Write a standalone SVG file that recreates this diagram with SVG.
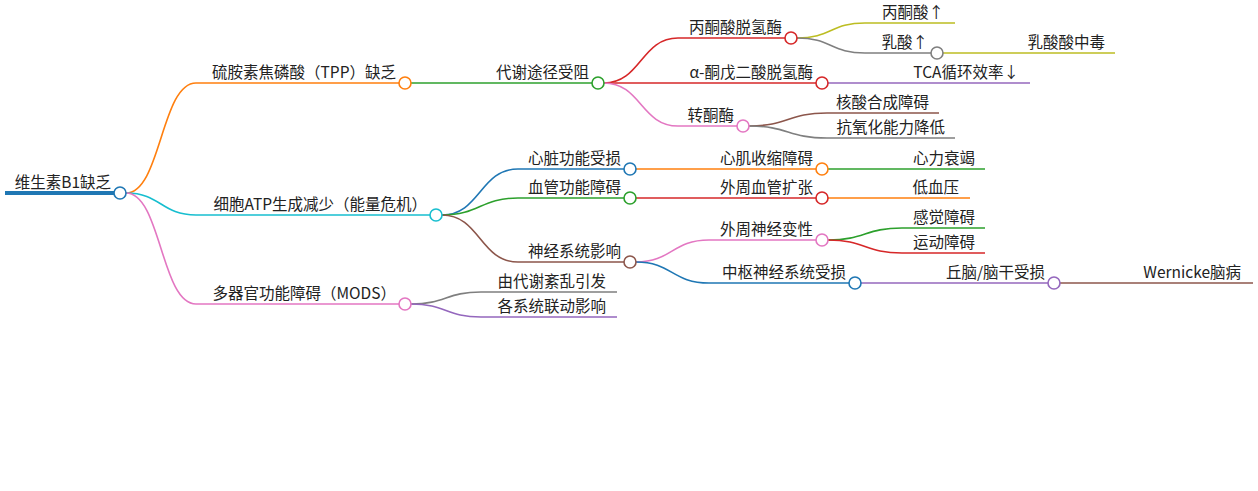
<svg xmlns="http://www.w3.org/2000/svg" width="1258" height="491" viewBox="0 0 1258 491">
<style>
text{font-family:"Noto Sans CJK SC","Liberation Sans",sans-serif;font-size:15.5px;fill:#222;text-anchor:end}
#edges path{fill:none;stroke-width:1.6}
circle{fill:#fff;stroke-width:1.6}
.b{stroke:#1f77b4}.o{stroke:#ff7f0e}.g{stroke:#2ca02c}.r{stroke:#d62728}.p{stroke:#9467bd}.n{stroke:#8c564b}.k{stroke:#e377c2}.y{stroke:#7f7f7f}.l{stroke:#bcbd22}.c{stroke:#17becf}
</style>
<rect width="1258" height="491" fill="#fff"/>
<g id="edges">
<path class="b" d="M5,193 L114,193" style="stroke-width:4"/>
<path class="o" d="M126,193 C161,193 161,83 196,83 L399,83"/>
<path class="c" d="M126,193 C161,193 161,215 196,215 L430,215"/>
<path class="k" d="M126,193 C161,193 161,304 196,304 L399,304"/>
<path class="g" d="M411,83 L592,83"/>
<path class="b" d="M442,215 C480,215 480,169 518,169 L624,169"/>
<path class="g" d="M442,215 C480,215 480,198 518,198 L624,198"/>
<path class="n" d="M442,215 C480,215 480,262 518,262 L624,262"/>
<path class="y" d="M411,304 C446,304 446,292 481,292 L617,292"/>
<path class="p" d="M411,304 C446,304 446,317 481,317 L617,317"/>
<path class="r" d="M604,83 C641,83 641,38 678,38 L785,38"/>
<path class="r" d="M604,83 L816,83"/>
<path class="k" d="M604,83 C641,83 641,126 678,126 L737,126"/>
<path class="l" d="M797,38 C831,38 831,23 865,23 L955,23"/>
<path class="y" d="M797,38 C831,38 831,53 865,53 L931,53"/>
<path class="l" d="M943,53 L1115,53"/>
<path class="p" d="M828,83 L1030,83"/>
<path class="n" d="M749,126 C788,126 788,113 827,113 L939,113"/>
<path class="y" d="M749,126 C788,126 788,138 827,138 L955,138"/>
<path class="o" d="M636,169 L816,169"/>
<path class="g" d="M828,169 L985,169"/>
<path class="r" d="M636,198 L816,198"/>
<path class="o" d="M828,198 L970,198"/>
<path class="k" d="M636,262 C672,262 672,240 709,240 L816,240"/>
<path class="g" d="M828,240 C865,240 865,228 902,228 L985,228"/>
<path class="r" d="M828,240 C865,240 865,253 902,253 L985,253"/>
<path class="b" d="M636,262 C672,262 672,283 709,283 L849,283"/>
<path class="p" d="M861,283 L1048,283"/>
<path class="n" d="M1060,283 L1253,283"/>
</g>
<g id="root"><text x="111" y="188">维生素B1缺乏</text><circle class="b" cx="120" cy="193" r="6"/></g>
<g id="tpp"><text x="396" y="78">硫胺素焦磷酸（TPP）缺乏</text><circle class="o" cx="405" cy="83" r="6"/></g>
<g id="atp"><text x="427" y="210">细胞ATP生成减少（能量危机）</text><circle class="c" cx="436" cy="215" r="6"/></g>
<g id="mods"><text x="396" y="299">多器官功能障碍（MODS）</text><circle class="k" cx="405" cy="304" r="6"/></g>
<g id="daixie"><text x="589" y="78">代谢途径受阻</text><circle class="g" cx="598" cy="83" r="6"/></g>
<g id="xinzang"><text x="621" y="164">心脏功能受损</text><circle class="b" cx="630" cy="169" r="6"/></g>
<g id="xueguan"><text x="621" y="193">血管功能障碍</text><circle class="g" cx="630" cy="198" r="6"/></g>
<g id="shenjing"><text x="621" y="257">神经系统影响</text><circle class="n" cx="630" cy="262" r="6"/></g>
<g id="youdaixie"><text x="606" y="287">由代谢紊乱引发</text></g>
<g id="gexitong"><text x="606" y="312">各系统联动影响</text></g>
<g id="bingtong"><text x="782" y="33">丙酮酸脱氢酶</text><circle class="r" cx="791" cy="38" r="6"/></g>
<g id="alpha"><text x="813" y="78">α-酮戊二酸脱氢酶</text><circle class="r" cx="822" cy="83" r="6"/></g>
<g id="zhuantong"><text x="734" y="121">转酮酶</text><circle class="k" cx="743" cy="126" r="6"/></g>
<g id="bingtongsuan"><text x="944" y="18">丙酮酸↑</text></g>
<g id="rusuan"><text x="928" y="48">乳酸↑</text><circle class="y" cx="937" cy="53" r="6"/></g>
<g id="zhongdu"><text x="1105" y="48">乳酸酸中毒</text></g>
<g id="tca"><text x="1019" y="78">TCA循环效率↓</text></g>
<g id="hesuan"><text x="929" y="108">核酸合成障碍</text></g>
<g id="kangyang"><text x="945" y="133">抗氧化能力降低</text></g>
<g id="xinji"><text x="813" y="164">心肌收缩障碍</text><circle class="o" cx="822" cy="169" r="6"/></g>
<g id="xinli"><text x="975" y="164">心力衰竭</text></g>
<g id="kuozhang"><text x="813" y="193">外周血管扩张</text><circle class="r" cx="822" cy="198" r="6"/></g>
<g id="dixueya"><text x="959" y="193">低血压</text></g>
<g id="waizhou"><text x="813" y="235">外周神经变性</text><circle class="k" cx="822" cy="240" r="6"/></g>
<g id="ganjue"><text x="975" y="223">感觉障碍</text></g>
<g id="yundong"><text x="975" y="248">运动障碍</text></g>
<g id="zhongshu"><text x="846" y="278">中枢神经系统受损</text><circle class="b" cx="855" cy="283" r="6"/></g>
<g id="qiunao"><text x="1045" y="278">丘脑/脑干受损</text><circle class="p" cx="1054" cy="283" r="6"/></g>
<g id="wernicke"><text x="1241" y="278">Wernicke脑病</text></g>
</svg>
